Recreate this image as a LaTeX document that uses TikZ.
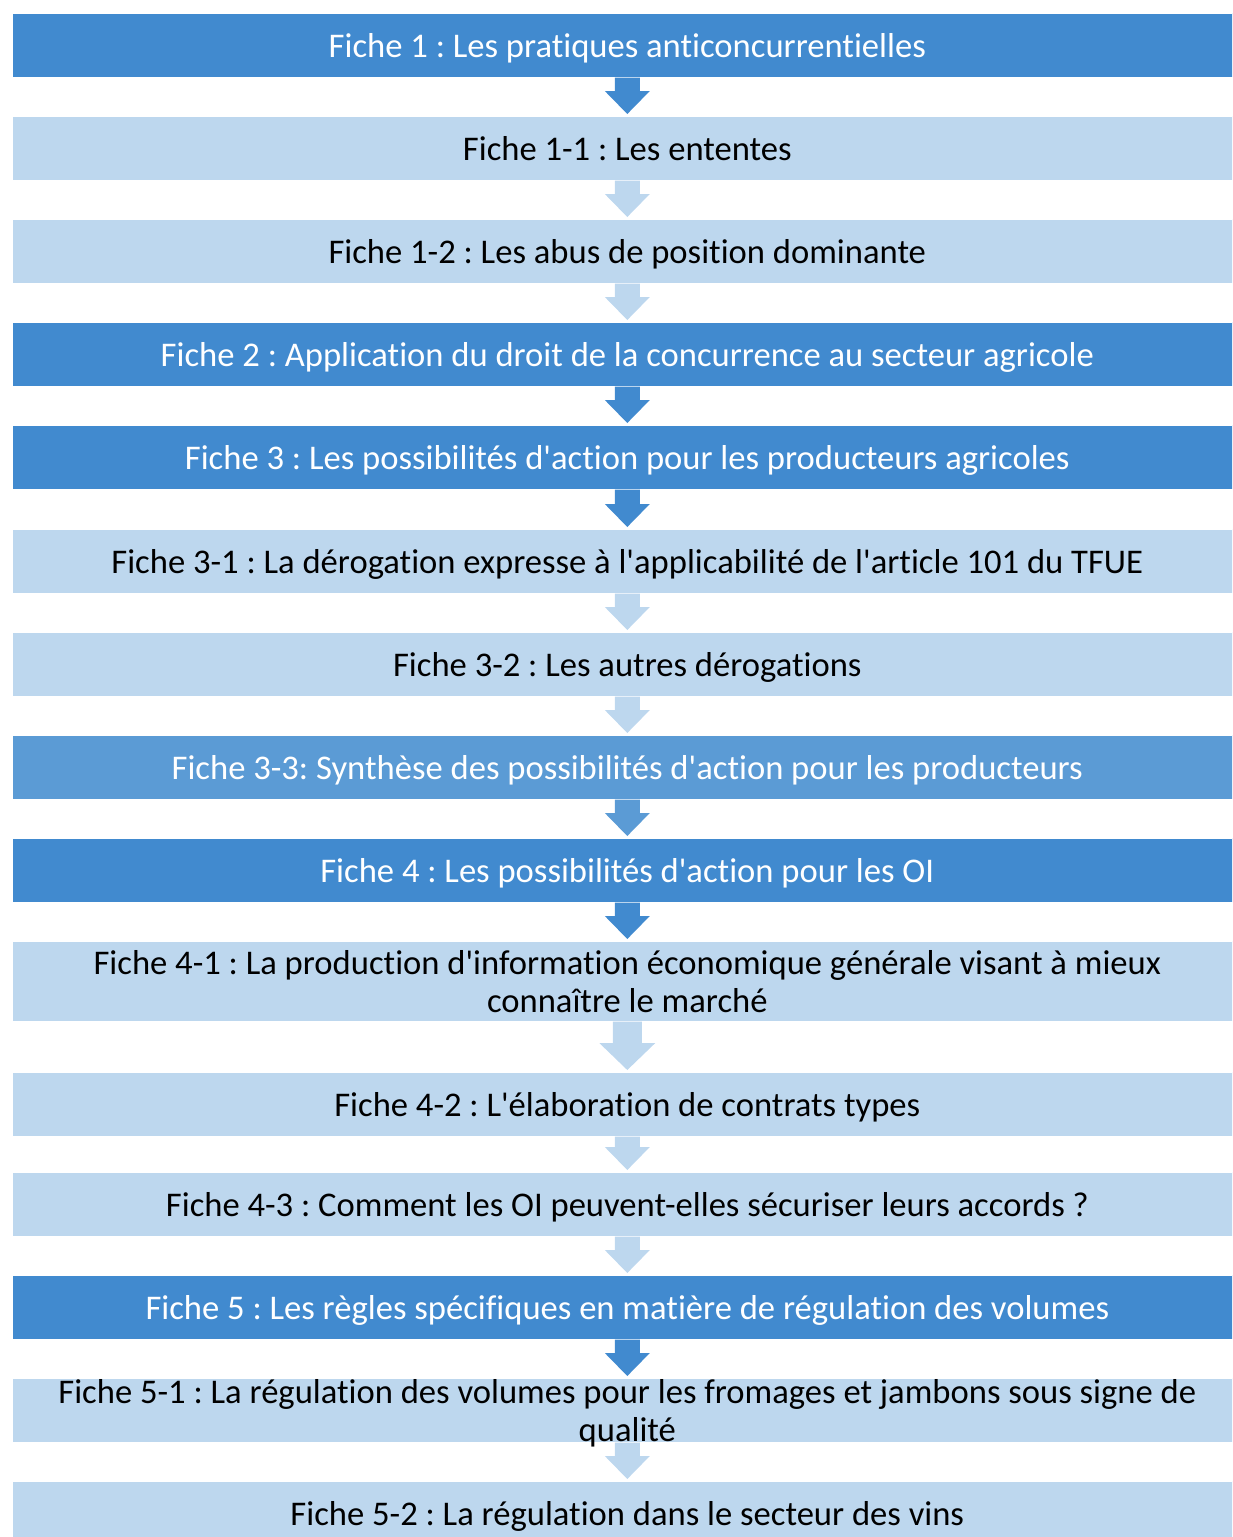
\documentclass[tikz,border=0pt]{standalone}
\usepackage{fontspec}
\setmainfont{Carlito}[Ligatures={TeXOff,NoCommon}]
\frenchspacing
\usetikzlibrary{calc}
\definecolor{dk}{RGB}{65,138,207}
\definecolor{md}{RGB}{91,155,213}
\definecolor{lt}{RGB}{189,215,238}
\tikzset{
  box/.style={rectangle, anchor=north west, minimum width=1230pt, minimum height=64pt,
    inner sep=0pt, align=center, text depth=0pt, draw=white, line width=0.6pt,
    font=\fontsize{34.6}{38}\selectfont},
  darkbox/.style={box, fill=dk, text=white},
  midbox/.style={box, fill=md, text=white},
  lightbox/.style={box, fill=lt, text=black},
}
% from, to, colour, shaft half width, head half width, head length
\newcommand\blockarrow[6]{%
  \fill[#3] let \p1=(#1.south), \p2=(#2.north) in
    (\x1-#4,\y1) -- (\x1+#4,\y1) -- (\x1+#4,\y2+2pt+#6) -- (\x1+#5,\y2+2pt+#6)
    -- (\x1,\y2+2pt) -- (\x1-#5,\y2+2pt+#6) -- (\x1-#4,\y2+2pt+#6) -- cycle;}
\begin{document}
\begin{tikzpicture}[x=1pt,y=-1pt]
\useasboundingbox (0,0) rectangle (1232,1537);
\clip (0,0) rectangle (1232,1537);
\node[darkbox]  (f1)  at (12,13)   {Fiche 1 : Les pratiques anticoncurrentielles};
\node[lightbox] (f11) at (12,116)  {Fiche 1-1 : Les ententes};
\node[lightbox] (f12) at (12,219)  {Fiche 1-2 : Les abus de position dominante};
\node[darkbox]  (f2)  at (12,322)  {Fiche 2 : Application du droit de la concurrence au secteur agricole};
\node[darkbox]  (f3)  at (12,425)  {Fiche 3 : Les possibilités d'action pour les producteurs agricoles};
\node[lightbox] (f31) at (12,529)  {Fiche 3-1 : La dérogation expresse à l'applicabilité de l'article 101 du TFUE};
\node[lightbox] (f32) at (12,632)  {Fiche 3-2 : Les autres dérogations};
\node[midbox]   (f33) at (12,735)  {Fiche 3-3: Synthèse des possibilités d'action pour les producteurs};
\node[darkbox]  (f4)  at (12,838)  {Fiche 4 : Les possibilités d'action pour les OI};
\node[lightbox, minimum height=80pt] (f41) at (12,941) {Fiche 4-1 : La production d'information économique générale visant à mieux\\connaître le marché};
\node[lightbox] (f42) at (12,1072) {Fiche 4-2 : L'élaboration de contrats types};
\node[lightbox] (f43) at (12,1172) {Fiche 4-3 : Comment les OI peuvent-elles sécuriser leurs accords ?};
\node[darkbox]  (f5)  at (12,1275) {Fiche 5 : Les règles spécifiques en matière de régulation des volumes};
\node[lightbox] (f51) at (12,1378) {Fiche 5-1 : La régulation des volumes pour les fromages et jambons sous signe de\\qualité};
\node[lightbox] (f52) at (12,1481) {Fiche 5-2 : La régulation dans le secteur des vins};
\blockarrow{f1}{f11}{dk}{12.5pt}{22.5pt}{23pt}
\blockarrow{f11}{f12}{lt}{12.5pt}{22.5pt}{23pt}
\blockarrow{f12}{f2}{lt}{12.5pt}{22.5pt}{23pt}
\blockarrow{f2}{f3}{dk}{12.5pt}{22.5pt}{23pt}
\blockarrow{f3}{f31}{dk}{12.5pt}{22.5pt}{23pt}
\blockarrow{f31}{f32}{lt}{12.5pt}{22.5pt}{23pt}
\blockarrow{f32}{f33}{lt}{12.5pt}{22.5pt}{23pt}
\blockarrow{f33}{f4}{md}{12.5pt}{22.5pt}{23pt}
\blockarrow{f4}{f41}{dk}{12.5pt}{22.5pt}{23pt}
\blockarrow{f41}{f42}{lt}{14.5pt}{28pt}{27pt}
\blockarrow{f42}{f43}{lt}{12.5pt}{22.5pt}{23pt}
\blockarrow{f43}{f5}{lt}{12.5pt}{22.5pt}{23pt}
\blockarrow{f5}{f51}{dk}{12.5pt}{22.5pt}{23pt}
\blockarrow{f51}{f52}{lt}{12.5pt}{22.5pt}{23pt}
\end{tikzpicture}
\end{document}
